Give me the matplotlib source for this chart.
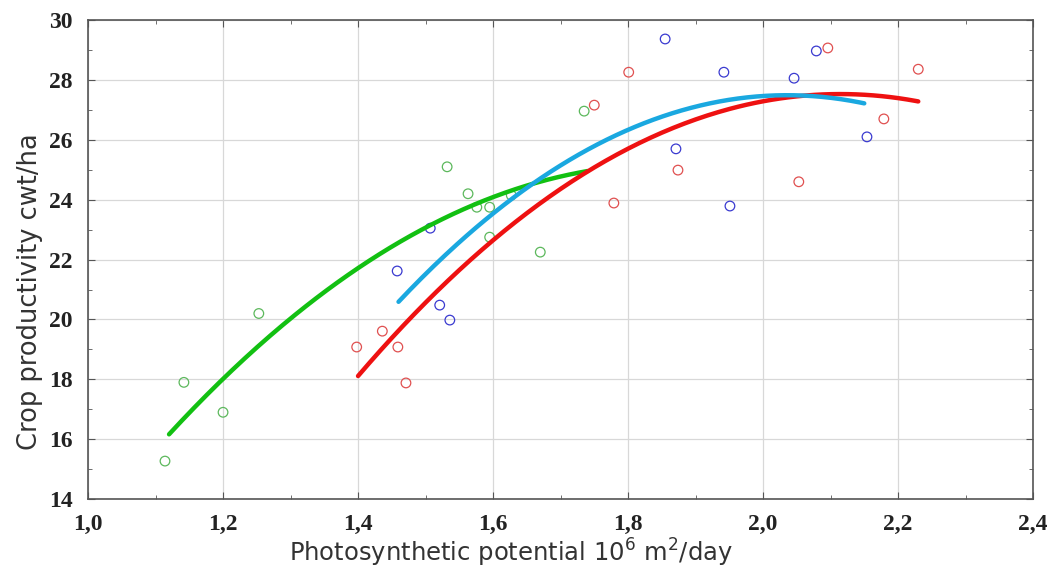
import numpy as np
import matplotlib
matplotlib.use('Agg')
import matplotlib.pyplot as plt
from matplotlib.ticker import MultipleLocator

# scatter data
green_x = [1.114, 1.142, 1.200, 1.253, 1.532, 1.563, 1.576, 1.595, 1.595, 1.627, 1.670, 1.735]
green_y = [15.27, 17.90, 16.90, 20.20, 25.10, 24.20, 23.75, 23.75, 22.75, 24.15, 22.25, 26.96]

blue_x = [1.458, 1.507, 1.521, 1.536, 1.855, 1.871, 1.942, 1.951, 2.046, 2.079, 2.154]
blue_y = [21.62, 23.05, 20.48, 19.98, 29.37, 25.70, 28.26, 23.79, 28.06, 28.97, 26.10]

red_x = [1.398, 1.436, 1.459, 1.471, 1.750, 1.779, 1.801, 1.874, 2.053, 2.096, 2.179, 2.230]
red_y = [19.08, 19.61, 19.08, 17.88, 27.16, 23.89, 28.26, 24.99, 24.60, 29.07, 26.70, 28.36]

# points
green_cx = [1.12, 1.20, 1.40, 1.60, 1.74]
green_cy = [16.17, 17.98, 21.80, 23.99, 25.00]
blue_cx = [1.46, 1.60, 1.80, 2.00, 2.08, 2.15]
blue_cy = [20.41, 23.90, 26.16, 27.38, 27.45, 27.30]
red_cx = [1.40, 1.60, 1.80, 2.00, 2.10, 2.23]
red_cy = [18.10, 22.65, 25.76, 27.20, 27.55, 27.30]

xticks = [1.0, 1.2, 1.4, 1.6, 1.8, 2.0, 2.2, 2.4]

fig = plt.figure(figsize=(10.57, 5.75), dpi=100)
ax = fig.add_axes([0.0833, 0.132, 0.894, 0.833])

def trend(cx, cy, color):
    # quadratic trend through the read curve points
    c = np.polyfit(cx, cy, 2)
    xx = np.linspace(cx[0], cx[-1], 200)
    ax.plot(xx, np.polyval(c, xx), color=color, lw=3.2, solid_capstyle='round', zorder=3)

ax.scatter(green_x, green_y, s=48, facecolors='none', edgecolors='#5cb85c', linewidths=0.9, zorder=2)
ax.scatter(blue_x, blue_y, s=48, facecolors='none', edgecolors='#3a3ad0', linewidths=0.9, zorder=2)
ax.scatter(red_x, red_y, s=48, facecolors='none', edgecolors='#e05050', linewidths=0.9, zorder=2)

trend(green_cx, green_cy, '#12c012')
trend(red_cx, red_cy, '#ee1111')
trend(blue_cx, blue_cy, '#1aa8e0')

ax.set_xlim(1.0, 2.4)
ax.set_ylim(14, 30)
ax.set_xticks(xticks)
ax.set_xticklabels([f'{v:.1f}'.replace('.', ',') for v in xticks])
ax.xaxis.set_minor_locator(MultipleLocator(0.1))
ax.yaxis.set_major_locator(MultipleLocator(2))
ax.yaxis.set_minor_locator(MultipleLocator(1))

ax.grid(True, which='major', color='#d8d8d8', lw=0.9)
ax.set_axisbelow(True)
ax.tick_params(which='both', direction='in', top=True, right=True, color='#555555')
ax.tick_params(which='major', length=5)
ax.tick_params(which='minor', length=3)
ax.tick_params(axis='x', pad=11)
ax.tick_params(axis='y', pad=11)
for lab in ax.get_xticklabels() + ax.get_yticklabels():
    lab.set_family('Liberation Serif')
    lab.set_fontweight('bold')
    lab.set_fontsize(17)
    lab.set_color('#222222')
for sp in ax.spines.values():
    sp.set_color('#555555')
    sp.set_linewidth(1.2)

ax.set_xlabel(r'Photosynthetic potential 10$^{6}$ m$^{2}$/day', fontsize=17.5, color='#333333')
ax.set_ylabel('Crop productivity cwt/ha', fontsize=18.5, color='#333333')
ax.xaxis.set_label_coords(0.447, -0.078)
ax.yaxis.set_label_coords(-0.048, 0.434)

fig.savefig('out.png', dpi=100)
